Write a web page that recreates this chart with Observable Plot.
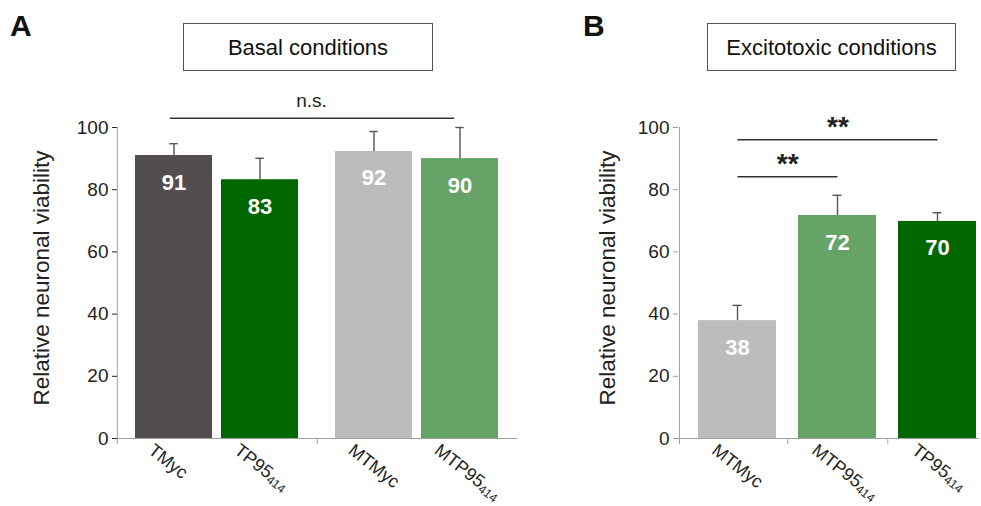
<!DOCTYPE html>
<html><head><meta charset="utf-8">
<script src="https://cdn.jsdelivr.net/npm/d3@7"></script>
<script src="https://cdn.jsdelivr.net/npm/@observablehq/plot@0.6"></script>
<style>
html,body{margin:0;padding:0;overflow:hidden;background:#fff;}
#wrap{position:relative;width:981px;height:506px;overflow:hidden;font-family:"Liberation Sans",Arial,sans-serif;}
.panel{position:absolute;top:0;}
.panel svg{max-width:none!important;display:block;}
.letter{position:absolute;font-weight:bold;font-size:30px;color:#111;line-height:1;}
.tbox{position:absolute;border:1.3px solid #555;box-sizing:border-box;display:flex;align-items:center;justify-content:center;font-size:22px;color:#111;background:#fff;padding-top:2px;}
[aria-label="y-axis tick"]{stroke:#9f9f9f;}
</style></head><body>
<div id="wrap">
 <div class="panel" id="pa" style="left:0"></div>
 <div class="panel" id="pb" style="left:560px"></div>
 <div class="letter" style="left:10px;top:11px">A</div>
 <div class="letter" style="left:583px;top:11px">B</div>
 <div class="tbox" style="left:183px;top:23px;width:250px;height:48px">Basal conditions</div>
 <div class="tbox" style="left:707px;top:23px;width:249px;height:48px">Excitotoxic conditions</div>
</div>
<script>
// ---- data ----
const yTicks = [0, 20, 40, 60, 80, 100];
const yLabel = "Relative neuronal viability";
const barNames = ["TMyc", "TP95_414", "MTMyc", "MTP95_414"];
const barColors = ["#524e4f", "#006600", "#bcbcbc", "#66a366"];

const basalNames = ["TMyc", "TP95_414", "MTMyc", "MTP95_414"];
const basalGroups = ["T", "T", "MT", "MT"];
const basalValues = [91.0, 83.2, 92.3, 90.0];
const basalErrors = [3.8, 6.9, 6.4, 10.0];
const basalLabels = ["91", "83", "92", "90"];

const excitoNames = ["MTMyc", "MTP95_414", "TP95_414"];
const excitoValues = [37.9, 71.7, 69.8];
const excitoErrors = [4.9, 6.5, 2.8];
const excitoLabels = ["38", "72", "70"];

const basalSigFrom = ["TMyc"], basalSigTo = ["MTP95_414"], basalSigLevel = [103], basalSigText = ["n.s."];
const excitoSigFrom = ["MTMyc", "MTMyc"], excitoSigTo = ["TP95_414", "MTP95_414"];
const excitoSigLevel = [96.1, 84.2], excitoSigText = ["**", "**"];

// ---- layout ----
const H = 506, mTop = 127, mBottom = 68;
const axisGray = "#a0a0a0", errGray = "#555", ink = "#222";
const font = "'Liberation Sans', Arial, sans-serif";
const baseStyle = {fontFamily: font, fontSize: "19px", color: ink, background: "transparent", overflow: "visible"};
const xLabelOpts = {frameAnchor: "bottom", rotate: 38, textAnchor: "start", lineAnchor: "top", dx: -19, dy: 4, fontSize: 18, fill: ink};
const yLabelOpts = {frameAnchor: "left", textAnchor: "middle", lineAnchor: "middle", rotate: -90, dy: -5, fontSize: 22.5, fill: ink};

const variantOf = n => n.replace(/^M?T/, "");
const groups = ["T", "MT"];
const variants = ["Myc", "P95_414"];

const basal = basalNames.map((name, i) => ({
  name, group: basalGroups[i], variant: variantOf(name),
  value: basalValues[i], top: basalValues[i] + basalErrors[i], label: basalLabels[i]
}));
const basalSig = basalSigFrom.map((f, i) => ({
  from: variantOf(f), to: variantOf(basalSigTo[i]), level: basalSigLevel[i], text: basalSigText[i]
}));

const A = {width: 560, left: 117, right: 43};
const aPadInner = 9 / 87, aPadOuter = 18 / 87;
const facetW = (A.width - A.left - A.right) / groups.length;
const aStep = facetW / (variants.length - aPadInner + 2 * aPadOuter);
const aBw = aStep * (1 - aPadInner);
const aOuter = aStep * aPadOuter;
const aEdge = aBw / 2 + aOuter;
const capA = (aBw - 9) / 2;

const plotA = Plot.plot({
  width: A.width, height: H, marginLeft: A.left, marginRight: A.right, marginTop: mTop, marginBottom: mBottom,
  style: baseStyle,
  fx: {domain: groups, padding: 0, axis: null, label: null},
  x: {domain: variants, paddingInner: aPadInner, paddingOuter: aPadOuter, axis: null, label: null},
  y: {domain: [0, 100], ticks: yTicks, tickSize: 5, tickPadding: 4, label: null},
  color: {domain: barNames, range: barColors},
  marks: [
    Plot.ruleY([0], {stroke: axisGray}),
    Plot.ruleX(groups, {fx: d => d, x: () => variants[0], y1: -1.9, y2: d => d === groups[0] ? 100 : 0, dx: -aEdge, stroke: axisGray}),
    Plot.barY(basal, {fx: "group", x: "variant", y: "value", fill: "name"}),
    Plot.ruleX(basal, {fx: "group", x: "variant", y1: "value", y2: "top", stroke: errGray, strokeWidth: 1.4}),
    Plot.tickY(basal, {fx: "group", x: "variant", y: "top", insetLeft: capA, insetRight: capA, stroke: errGray, strokeWidth: 1.4}),
    Plot.text(basal, {fx: "group", x: "variant", y: "value", text: "label", dy: 27, fill: "white", fontWeight: "bold", fontSize: 22}),
    Plot.text(basal, {fx: "group", x: "variant", text: "name", ...xLabelOpts}),
    // n.s. bracket crossing the two groups: one half in each facet
    Plot.ruleY(basalSig, {fx: () => groups[0], y: "level", x1: "from", x2: () => variants[variants.length - 1], insetLeft: aBw / 2 - 4, insetRight: -aOuter - 1, stroke: "#333", strokeWidth: 1.5}),
    Plot.ruleY(basalSig, {fx: () => groups[1], y: "level", x1: () => variants[0], x2: "to", insetLeft: -aOuter - 1, insetRight: aBw / 2 + 5, stroke: "#333", strokeWidth: 1.5}),
    Plot.text(basalSig, {fx: () => groups[0], y: "level", text: "text", frameAnchor: "right", textAnchor: "middle", dx: -6, dy: -17, fontSize: 19, fill: ink}),
    Plot.text([yLabel], {fx: () => groups[0], text: d => d, dx: -76, ...yLabelOpts})
  ]
});
document.getElementById("pa").appendChild(plotA);

// ---- panel B ----
const excito = excitoNames.map((name, i) => ({
  name, value: excitoValues[i], top: excitoValues[i] + excitoErrors[i], label: excitoLabels[i]
}));
const excitoSig = excitoSigFrom.map((f, i) => ({from: f, to: excitoSigTo[i], level: excitoSigLevel[i], text: excitoSigText[i]}));

const B = {width: 421, left: 118, right: 2};
const bPadInner = 0.224, bPadOuter = 0.1095, bAlign = 0.864;
const nB = excitoNames.length;
const bFrame = B.width - B.left - B.right;
const bStep = bFrame / (nB - bPadInner + 2 * bPadOuter);
const bBw = bStep * (1 - bPadInner);
const bEdgeLeft = bBw / 2 + (bFrame - bStep * (nB - bPadInner)) * bAlign;
const capB = (bBw - 9) / 2;
const idxB = n => excitoNames.indexOf(n);

const plotB = Plot.plot({
  width: B.width, height: H, marginLeft: B.left, marginRight: B.right, marginTop: mTop, marginBottom: mBottom,
  style: baseStyle,
  x: {domain: excitoNames, paddingInner: bPadInner, paddingOuter: bPadOuter, align: bAlign, axis: null, label: null},
  y: {domain: [0, 100], ticks: yTicks, tickSize: 5, tickPadding: 4, label: null},
  color: {domain: barNames, range: barColors},
  marks: [
    Plot.ruleY([0], {stroke: axisGray}),
    Plot.ruleX([excitoNames[0]], {x: d => d, y1: -1.9, y2: 100, dx: -bEdgeLeft, stroke: axisGray}),
    Plot.ruleX(excitoNames.slice(0, -1), {x: d => d, y1: -1.9, y2: 0, dx: bStep / 2, stroke: axisGray}),
    Plot.barY(excito, {x: "name", y: "value", fill: "name"}),
    Plot.ruleX(excito, {x: "name", y1: "value", y2: "top", stroke: errGray, strokeWidth: 1.4}),
    Plot.tickY(excito, {x: "name", y: "top", insetLeft: capB, insetRight: capB, stroke: errGray, strokeWidth: 1.4}),
    Plot.text(excito, {x: "name", y: "value", text: "label", dy: 27, fill: "white", fontWeight: "bold", fontSize: 22}),
    Plot.text(excito, {x: "name", text: "name", ...xLabelOpts}),
    Plot.link(excitoSig, {x1: "from", x2: "to", y1: "level", y2: "level", stroke: "#333", strokeWidth: 1.5}),
    ...excitoSig.map(s => Plot.text([s], {x: "from", y: "level", text: "text", dx: (idxB(s.to) - idxB(s.from)) * bStep / 2, dy: -13, fontSize: 28, fontWeight: "bold", fill: ink})),
    Plot.text([yLabel], {text: d => d, dx: -71, ...yLabelOpts})
  ]
});
document.getElementById("pb").appendChild(plotB);

// subscripts for "_"-marked names
for (const svg of [plotA, plotB]) {
  svg.querySelectorAll("text, tspan").forEach(t => {
    if (t.children.length === 0 && t.textContent.includes("_")) {
      const [main, sub] = t.textContent.split("_");
      t.textContent = main;
      const ts = document.createElementNS("http://www.w3.org/2000/svg", "tspan");
      ts.setAttribute("dy", "0.22em");
      ts.setAttribute("font-size", "0.68em");
      ts.textContent = sub;
      t.appendChild(ts);
    }
  });
}
</script>
</body></html>
